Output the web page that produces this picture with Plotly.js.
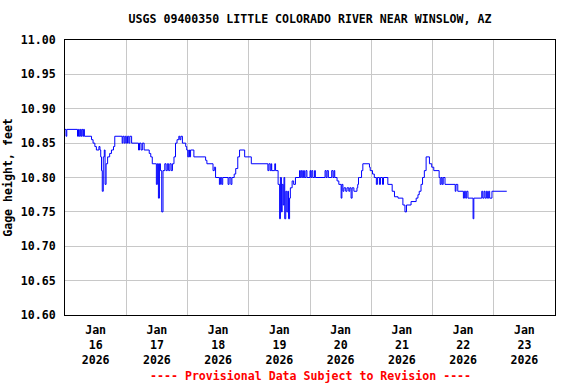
<!DOCTYPE html>
<html>
<head>
<meta charset="utf-8">
<script src="https://cdn.plot.ly/plotly-3.0.1.min.js"></script>
<style>html,body{margin:0;padding:0;background:#fff;}#chart{width:576px;height:384px;}</style>
</head>
<body>
<div id="chart"></div>
<script>
// Hours elapsed since 2026-01-16 00:00 (local station time)
const startDate = '2026-01-16';
const hours = [
  0, 0.4, 0.7, 4.9, 5.3, 5.6, 6.0, 6.3, 6.6, 7.0, 7.3, 7.6,
  10.4, 11.0, 11.7, 12.3, 13.3, 13.7, 14.0, 14.3, 14.6, 15.0, 15.4, 15.7, 16.1, 16.7,
  17.5, 18.2, 19.0, 19.5, 22.4, 22.7, 23.2, 23.6, 24.0, 24.5, 25.0, 25.4, 26.1,
  28.8, 29.2, 29.8, 30.3, 31.0, 33.0, 33.6, 34.2, 35.8, 36.2, 36.6, 37.0, 37.4,
  37.9, 38.4, 39.1, 39.6, 40.1, 40.6, 41.1, 41.6, 42.1, 42.7, 43.3, 43.9, 44.6,
  45.0, 45.4, 46.0, 47.3, 47.7, 48.1, 48.5, 48.8, 49.2, 50.5, 55.1, 55.6,
  58.0, 58.5, 59.0, 60.5, 60.9, 61.4, 61.8, 63.9, 64.3, 65.0, 65.4, 66.3, 66.9,
  67.7, 68.4, 70.4, 73.0, 79.5, 79.9, 80.4, 80.8, 81.0, 82.2, 82.5, 83.5,
  84.1, 84.4, 84.8, 85.1, 85.5, 85.8, 86.1, 86.5, 86.9, 87.3, 87.6, 88.0, 88.3,
  89.0, 89.6, 90.3, 91.9, 92.2, 92.6, 93.0, 93.5, 93.8, 94.4, 94.8, 96.0, 96.3,
  96.7, 97.1, 97.8, 98.1, 101.9, 102.3, 102.7, 103.2, 104.5, 105.0, 105.4, 105.7,
  106.6, 107.3, 108.2, 108.5, 108.9, 109.3, 110.0, 110.5, 111.2, 111.6, 112.1,
  112.5, 113.2, 114.4, 114.7, 115.0, 115.5, 116.2, 116.7, 119.3, 119.6, 120.5,
  121.2, 122.0, 122.4, 123.2, 123.6, 124.4, 124.8, 126.5, 128.2, 129.1, 130.5,
  132.4, 133.2, 133.8, 135.6, 137.6, 138.3, 138.8, 139.5, 140.1, 140.8, 141.5,
  142.8, 143.7, 144.5, 146.6, 147.0, 147.4, 147.8, 148.2, 148.9, 152.9, 153.2,
  153.9, 156.1, 156.5, 157.0, 157.4, 157.9, 159.9, 160.2, 163.3, 163.7, 164.2,
  164.6, 165.1, 165.5, 166.0, 166.4, 167.3, 173.1
];
const gage = [
  10.87, 10.86, 10.87, 10.86, 10.87, 10.86, 10.87, 10.86, 10.87, 10.86, 10.87, 10.86,
  10.855, 10.85, 10.845, 10.84, 10.845, 10.84, 10.83, 10.81, 10.78, 10.83, 10.84, 10.79, 10.82, 10.83,
  10.835, 10.84, 10.845, 10.86, 10.85, 10.86, 10.85, 10.86, 10.85, 10.86, 10.85, 10.86, 10.85,
  10.84, 10.85, 10.84, 10.85, 10.84, 10.835, 10.83, 10.82, 10.79, 10.82, 10.77, 10.82, 10.81,
  10.75, 10.81, 10.82, 10.81, 10.82, 10.81, 10.82, 10.81, 10.82, 10.83, 10.85, 10.855, 10.86,
  10.855, 10.86, 10.85, 10.845, 10.84, 10.83, 10.84, 10.83, 10.84, 10.83, 10.825, 10.82,
  10.81, 10.815, 10.80, 10.79, 10.80, 10.79, 10.80, 10.79, 10.80, 10.79, 10.80, 10.805, 10.813,
  10.83, 10.84, 10.83, 10.82, 10.81, 10.82, 10.81, 10.82, 10.81, 10.82, 10.81, 10.79,
  10.74, 10.80, 10.75, 10.79, 10.76, 10.80, 10.74, 10.78, 10.75, 10.78, 10.74, 10.77, 10.785,
  10.795, 10.79, 10.80, 10.81, 10.80, 10.81, 10.80, 10.81, 10.80, 10.81, 10.80, 10.81, 10.80,
  10.81, 10.80, 10.81, 10.80, 10.81, 10.80, 10.81, 10.80, 10.81, 10.80, 10.81, 10.80,
  10.795, 10.79, 10.77, 10.79, 10.78, 10.785, 10.78, 10.785, 10.78, 10.785, 10.77,
  10.785, 10.78, 10.785, 10.79, 10.80, 10.80, 10.81, 10.82, 10.815, 10.81, 10.805,
  10.80, 10.79, 10.80, 10.79, 10.80, 10.79, 10.80, 10.79, 10.78, 10.772, 10.77,
  10.76, 10.75, 10.76, 10.765, 10.77, 10.775, 10.78, 10.79, 10.80, 10.81, 10.83,
  10.82, 10.815, 10.81, 10.80, 10.79, 10.80, 10.79, 10.80, 10.79, 10.78, 10.79,
  10.78, 10.77, 10.78, 10.77, 10.78, 10.77, 10.74, 10.77, 10.78, 10.77, 10.78,
  10.77, 10.78, 10.77, 10.78, 10.77, 10.78, 10.78
];
const yTicks = [10.60, 10.65, 10.70, 10.75, 10.80, 10.85, 10.90, 10.95, 11.00];
const xRange = ['2026-01-16', '2026-01-24'];
const titleText = 'USGS 09400350 LITTLE COLORADO RIVER NEAR WINSLOW, AZ';
const yTitleText = 'Gage height, feet';
const footerText = '---- Provisional Data Subject to Revision ----';

const base = Date.parse(startDate + 'T00:00:00Z');
function toStamp(h) {
  return new Date(base + h * 3600000).toISOString().slice(0, 19).replace('T', ' ');
}
const xs = hours.map(toStamp);

const fnt = {family: 'DejaVu Sans Mono, monospace', size: 11.6, color: '#000', weight: 'bold'};

const trace = {
  x: xs, y: gage, type: 'scatter', mode: 'lines',
  line: {color: '#0000ff', width: 1, shape: 'hv'},
  hoverinfo: 'skip'
};

const layout = {
  width: 576, height: 384,
  margin: {l: 65, r: 21, t: 40, b: 69},
  paper_bgcolor: '#fff', plot_bgcolor: '#fff',
  showlegend: false,
  font: fnt,
  title: {text: titleText, font: fnt, x: 0.5, xref: 'paper', xanchor: 'center', y: 1, yref: 'container', yanchor: 'top', pad: {t: 15}},
  xaxis: {
    type: 'date', range: xRange,
    tick0: '2026-01-16', dtick: 86400000,
    ticklabelmode: 'period', tickformat: '%b<br>%d<br>%Y',
    showgrid: true, gridcolor: '#c8c8c8', gridwidth: 1,
    showline: true, linecolor: '#000', linewidth: 1, mirror: true,
    ticks: '', tickfont: fnt, zeroline: false, ticklabelstandoff: 4
  },
  yaxis: {
    range: [10.6, 11.0], tickvals: yTicks, ticktext: yTicks.map(v => v.toFixed(2)),
    showgrid: true, gridcolor: '#c8c8c8', gridwidth: 1,
    showline: true, linecolor: '#000', linewidth: 1, mirror: true,
    ticks: '', tickfont: fnt, zeroline: false, ticklabelstandoff: 6,
    title: {text: yTitleText, font: fnt, standoff: 5}
  },
  annotations: [{
    text: footerText, xref: 'paper', yref: 'paper', x: 0.5, y: -0.222, yanchor: 'middle', xanchor: 'center',
    showarrow: false, font: {family: 'DejaVu Sans Mono, monospace', size: 11.6, color: '#ff0000', weight: 'bold'}
  }]
};

Plotly.newPlot('chart', [trace], layout, {displayModeBar: false, staticPlot: true});
</script>
</body>
</html>
